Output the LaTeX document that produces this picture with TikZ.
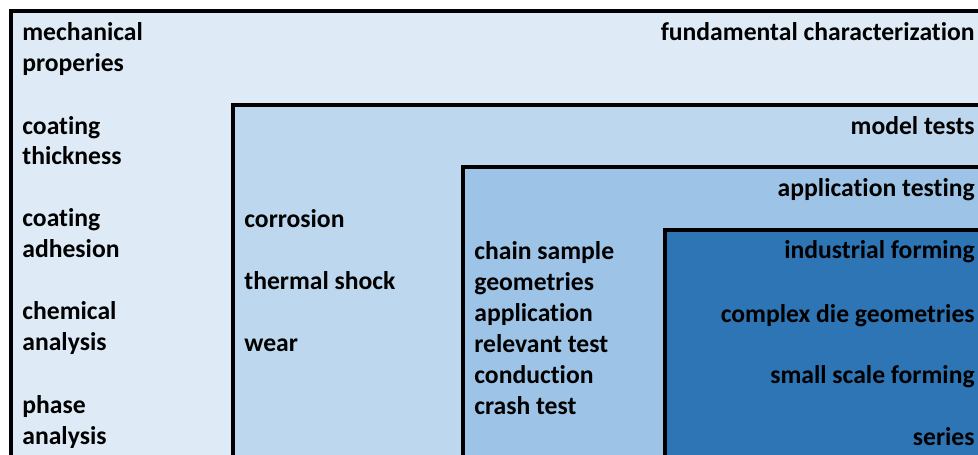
\documentclass[tikz,border=0pt]{standalone}
\usepackage{fontspec}
\setmainfont{Carlito}[Ligatures={NoCommon}]
\usepackage{tikz}
\definecolor{fundfill}{HTML}{DEEBF7}
\definecolor{modelfill}{HTML}{BDD7EE}
\definecolor{applfill}{HTML}{9DC3E6}
\definecolor{indfill}{HTML}{2E75B6}

\begin{document}
\begin{tikzpicture}[x=0.02cm,y=-0.02cm,
  level/.style={draw=black,line width=2pt},
  lt/.style={anchor=base west,inner sep=0pt,font=\fontsize{14.6}{17}\selectfont\bfseries},
  rt/.style={anchor=base east,inner sep=0pt,font=\fontsize{14.6}{17}\selectfont\bfseries}]
  \useasboundingbox (0,0) rectangle (978,454);
  \clip (0,0) rectangle (978,454);
  % nested test levels, cut off at right and bottom
  \draw[level,fill=fundfill] (11,11) rectangle (1000,480);
  \draw[level,fill=modelfill] (233,105) rectangle (1000,480);
  \draw[level,fill=applfill] (463,167) rectangle (1000,480);
  \draw[level,fill=indfill] (665,230) rectangle (1000,480);
  % level titles
  \node[rt] (fund) at (975,40) {fundamental characterization};
  \node[rt] (model) at (975,134) {model tests};
  \node[rt] (appl) at (975,196) {application testing};
  % fundamental characterization
  \node[lt] (mech1) at (22,40) {mechanical};
  \node[lt] (mech2) at (22,71) {properies};
  \node[lt] (thick1) at (22,134) {coating};
  \node[lt] (thick2) at (22,164) {thickness};
  \node[lt] (adh1) at (22,226) {coating};
  \node[lt] (adh2) at (22,257) {adhesion};
  \node[lt] (chem1) at (22,319) {chemical};
  \node[lt] (chem2) at (22,350) {analysis};
  \node[lt] (phase1) at (22,413) {phase};
  \node[lt] (phase2) at (22,444) {analysis};
  % model tests
  \node[lt] (corr) at (244,227) {corrosion};
  \node[lt] (therm) at (244,289) {thermal shock};
  \node[lt] (wear) at (244,351) {wear};
  % application testing
  \node[lt] (chain1) at (474,259) {chain sample};
  \node[lt] (chain2) at (474,290) {geometries};
  \node[lt] (rel1) at (474,321) {application};
  \node[lt] (rel2) at (474,352) {relevant test};
  \node[lt] (crash1) at (474,383) {conduction};
  \node[lt] (crash2) at (474,414) {crash test};
  % industrial forming
  \node[rt] (ind) at (975,258) {industrial forming};
  \node[rt] (die) at (975,322) {complex die geometries};
  \node[rt] (small) at (975,383) {small scale forming};
  \node[rt] (series) at (975,445) {series};
\end{tikzpicture}
\end{document}
